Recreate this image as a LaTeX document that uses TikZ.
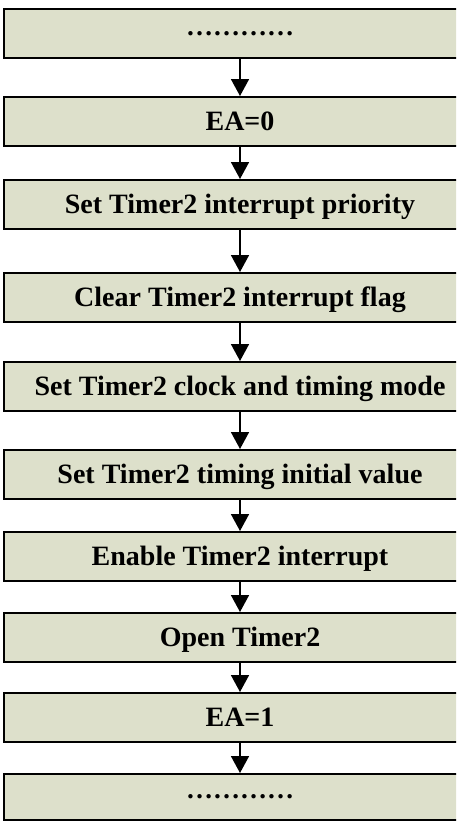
\documentclass[tikz,border=0pt]{standalone}
\usepackage{fontspec}
\setmainfont{Liberation Serif}
\usetikzlibrary{arrows.meta}
\definecolor{boxfill}{RGB}{221,224,203}
\tikzset{
  stepbox/.style={draw=black, line width=2pt, fill=boxfill, minimum width=471.5pt,
    minimum height=49pt, inner sep=0pt, font=\fontsize{28}{30}\selectfont\bfseries,
    text height=18.5pt, text depth=0pt},
  dotbox/.style={draw=black, line width=2pt, fill=boxfill, minimum width=471.5pt,
    minimum height=49pt, inner sep=0pt, font=\fontsize{27}{30}\selectfont\bfseries},
  flow/.style={line width=1.7pt, -{Triangle[width=18pt,length=17pt]}}
}
\begin{document}
\begin{tikzpicture}[x=1pt,y=-1pt]
\useasboundingbox (0,0) rectangle (456,822);
\clip (0,0) rectangle (456,822);
\node[dotbox] (b1) at (240,33.5) {…………};
\node[stepbox] (b2) at (240,121.5) {EA=0};
\node[stepbox] (b3) at (240,204.5) {Set Timer2 interrupt priority};
\node[stepbox] (b4) at (240,297.5) {Clear Timer2 interrupt flag};
\node[stepbox] (b5) at (240,386.5) {Set Timer2 clock and timing mode};
\node[stepbox] (b6) at (240,474.5) {Set Timer2 timing initial value};
\node[stepbox] (b7) at (240,556.5) {Enable Timer2 interrupt};
\node[stepbox] (b8) at (240,637.5) {Open Timer2};
\node[stepbox] (b9) at (240,717.5) {EA=1};
\node[dotbox, minimum height=46pt] (b10) at (240,797) {…………};
\foreach \a/\b in {b1/b2,b2/b3,b3/b4,b4/b5,b5/b6,b6/b7,b7/b8,b8/b9,b9/b10}
  \draw[flow] (\a.south) -- (\b.north);
\end{tikzpicture}
\end{document}
